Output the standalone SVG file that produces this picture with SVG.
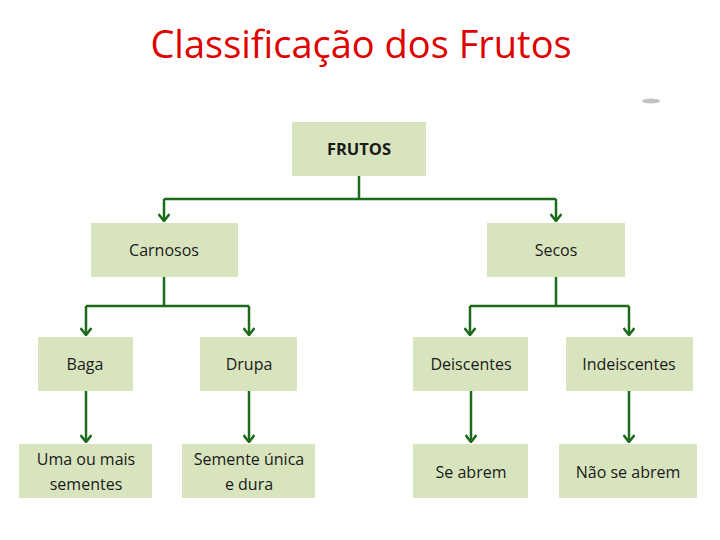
<svg xmlns="http://www.w3.org/2000/svg" width="720" height="540" viewBox="0 0 720 540">
<style>
.box{fill:#d7e4bd;}
.lbl{font-family:"Open Sans","Noto Sans",sans-serif;font-size:16px;fill:#1a1a1a;text-anchor:middle;}
.conn{stroke:#1b6b1b;stroke-width:2.5;fill:none;}
.title{font-family:"Open Sans","Noto Sans",sans-serif;font-size:38px;fill:#e00000;text-anchor:middle;}
</style>
<defs>
<marker id="arr" viewBox="0 0 12 12" refX="11" refY="6" markerWidth="12" markerHeight="12" markerUnits="userSpaceOnUse" orient="auto">
<path d="M4,0.5 L11,6 L4,11.5" fill="none" stroke="#1b6b1b" stroke-width="2.5"/>
</marker>
</defs>
<rect width="720" height="540" fill="#ffffff"/>
<text class="title" x="361" y="58">Classificação dos Frutos</text>
<ellipse cx="651" cy="101" rx="9" ry="2.5" fill="#9a9a9a" opacity="0.6"/>
<g id="connectors">
<path class="conn" d="M359,176 V199 M164,199 H556"/>
<path class="conn" d="M164,199 V221" marker-end="url(#arr)"/>
<path class="conn" d="M556,199 V221" marker-end="url(#arr)"/>
<path class="conn" d="M164,277 V306 M86,306 H249"/>
<path class="conn" d="M86,306 V335" marker-end="url(#arr)"/>
<path class="conn" d="M249,306 V335" marker-end="url(#arr)"/>
<path class="conn" d="M556,277 V306 M470,306 H629"/>
<path class="conn" d="M470,306 V335" marker-end="url(#arr)"/>
<path class="conn" d="M629,306 V335" marker-end="url(#arr)"/>
<path class="conn" d="M86,391 V442" marker-end="url(#arr)"/>
<path class="conn" d="M249,391 V442" marker-end="url(#arr)"/>
<path class="conn" d="M471,391 V442" marker-end="url(#arr)"/>
<path class="conn" d="M629,391 V442" marker-end="url(#arr)"/>
</g>
<g id="frutos"><rect class="box" x="292" y="122" width="134" height="54"/><text class="lbl" x="359" y="155" style="font-weight:bold;font-size:16.5px">FRUTOS</text></g>
<g id="carnosos"><rect class="box" x="91" y="223" width="147" height="54"/><text class="lbl" x="164" y="256">Carnosos</text></g>
<g id="secos"><rect class="box" x="487" y="223" width="138" height="54"/><text class="lbl" x="556" y="256">Secos</text></g>
<g id="baga"><rect class="box" x="38" y="337" width="95" height="54"/><text class="lbl" x="85" y="370">Baga</text></g>
<g id="drupa"><rect class="box" x="200" y="337" width="97" height="54"/><text class="lbl" x="249" y="370">Drupa</text></g>
<g id="deiscentes"><rect class="box" x="413" y="337" width="115" height="54"/><text class="lbl" x="471" y="370">Deiscentes</text></g>
<g id="indeiscentes"><rect class="box" x="566" y="337" width="127" height="54"/><text class="lbl" x="629" y="370">Indeiscentes</text></g>
<g id="uma"><rect class="box" x="19" y="444" width="133" height="54"/><text class="lbl" x="86" y="465">Uma ou mais</text><text class="lbl" x="86" y="490">sementes</text></g>
<g id="semente"><rect class="box" x="182" y="444" width="133" height="54"/><text class="lbl" x="249" y="465">Semente única</text><text class="lbl" x="249" y="490">e dura</text></g>
<g id="seabrem"><rect class="box" x="413" y="444" width="115" height="54"/><text class="lbl" x="471" y="478">Se abrem</text></g>
<g id="naoseabrem"><rect class="box" x="559" y="444" width="138" height="54"/><text class="lbl" x="628" y="478">Não se abrem</text></g>
</svg>
